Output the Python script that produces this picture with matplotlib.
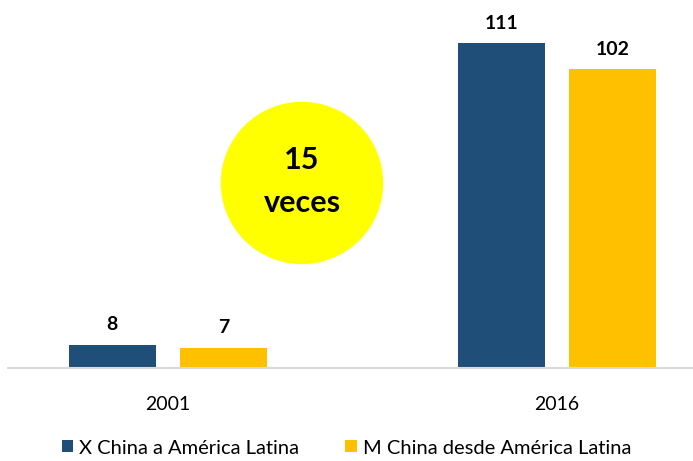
import matplotlib.pyplot as plt
from matplotlib.patches import Ellipse
import numpy as np

plt.rcParams['font.family'] = ['Lato', 'DejaVu Sans']

years = ['2001', '2016']
exports = [8, 111]
imports = [7, 102]
series_names = ['X China a América Latina', 'M China desde América Latina']

blue = '#1F4E79'
yellow = '#FFC000'

fig = plt.figure(figsize=(6.93, 4.61), dpi=100)
ax = fig.add_axes([8 / 693, 93 / 461, 685 / 693, 366 / 461])

x = np.arange(len(years))
w = 0.224
off = 0.143
b1 = ax.bar(x - off, exports, w, color=blue, label=series_names[0])
b2 = ax.bar(x + off, imports, w, color=yellow, label=series_names[1])

for bars in (b1, b2):
    for r in bars:
        ax.annotate(f'{r.get_height():g}', (r.get_x() + r.get_width() / 2, r.get_height()),
                    xytext=(0, 8), textcoords='offset points', ha='center', va='bottom',
                    fontsize=14, fontweight='bold', color='black')

ax.set_xlim(-0.411, 1.35)
ax.set_ylim(0, 125)
ax.set_xticks(x)
ax.set_xticklabels(years, fontsize=14)
ax.tick_params(axis='x', length=0, pad=20)
ax.set_yticks([])
for s in ['top', 'right', 'left']:
    ax.spines[s].set_visible(False)
ax.spines['bottom'].set_color('#D9D9D9')
ax.spines['bottom'].set_linewidth(1.5)

# yellow circle annotation
circ = Ellipse((302 / 693, 1 - 183 / 461), 161 / 693, 161 / 461,
               transform=fig.transFigure, color='#FFFF00', zorder=5)
fig.patches.append(circ)
fig.text(302 / 693, 1 - 160 / 461, '15', ha='center', va='center',
         fontsize=22, fontweight='bold', zorder=6)
fig.text(302 / 693, 1 - 203 / 461, 'veces', ha='center', va='center',
         fontsize=22, fontweight='bold', zorder=6)

fig.legend(handles=[b1, b2], loc='center', bbox_to_anchor=(0.5, 1 - 448 / 461),
           ncol=2, frameon=False, fontsize=14.5, handlelength=0.55, handleheight=0.55,
           handletextpad=0.3, columnspacing=2.3)

fig.savefig('out.png', dpi=100)
